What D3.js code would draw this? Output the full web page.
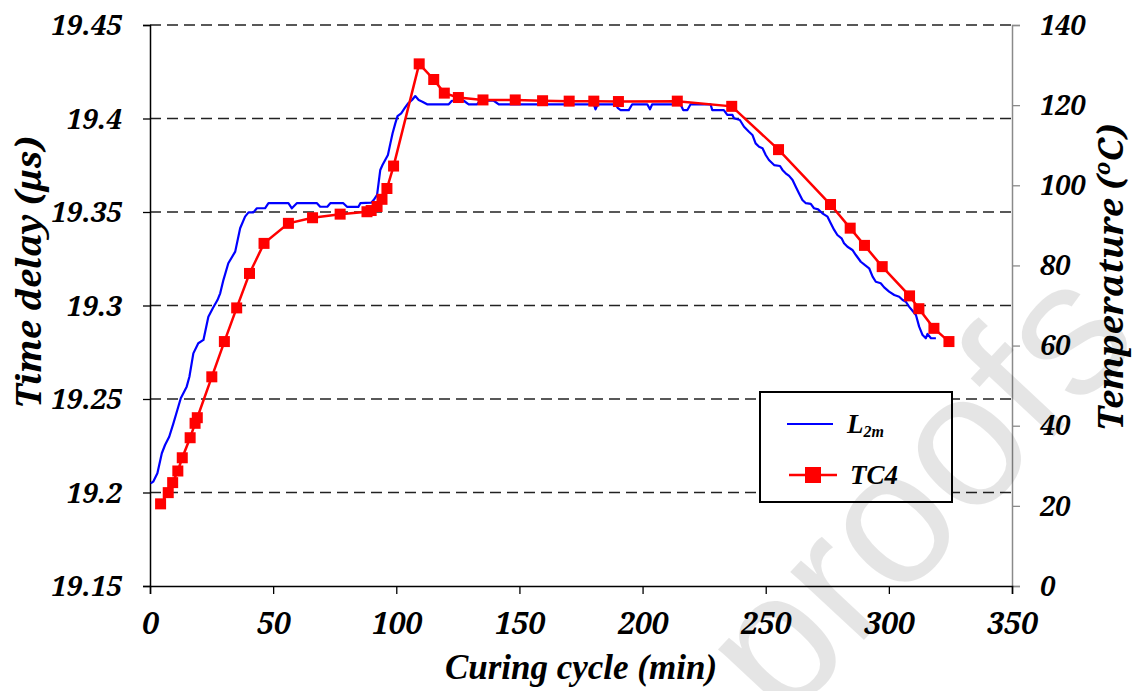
<!DOCTYPE html>
<html>
<head>
<meta charset="utf-8">
<script src="https://cdn.jsdelivr.net/npm/d3@7"></script>
<style>
  html, body { margin: 0; padding: 0; background: #fff; }
  svg { display: block; }
</style>
</head>
<body>
<svg id="chart" width="1134" height="691"></svg>
<script>
// ---------- data ----------
const xTicks = [0, 50, 100, 150, 200, 250, 300, 350];
const leftTicks = [19.15, 19.2, 19.25, 19.3, 19.35, 19.4, 19.45];
const leftTickLabels = ["19.15", "19.2", "19.25", "19.3", "19.35", "19.4", "19.45"];
const rightTicks = [0, 20, 40, 60, 80, 100, 120, 140];

// L2m: time delay (µs) vs curing time (min)
const l2mTime = [0.3, 1.3, 3.0, 4.8, 6.1, 7.8, 9.5, 11.1, 12.5, 14.9, 16.0, 17.6, 19.6, 21.7, 23.7, 25.5, 27.4, 28.5, 29.8, 31.8,
  34.6, 36.6, 38.6, 40.0, 42.0, 43.4, 46.7, 48.1, 56.2, 57.6, 59.6, 67.8, 69.1, 72.0, 73.2, 78.5, 80.1, 84.6, 85.4, 89.8,
  90.8, 92.2, 92.8, 93.5, 94.4, 95.5, 96.6, 97.6, 98.5, 99.6, 100.5, 102.0, 103.4, 104.8, 106.4, 107.7, 109.1, 110.6, 112.5, 121.3,
  122.6, 127.4, 129.4, 132.8, 134.1, 139.6, 141.6, 180.2, 180.9, 181.8, 189.0, 190.0, 191.1, 194.4, 195.8, 201.9, 203.0, 203.9, 215.4, 216.5,
  218.2, 219.5, 227.6, 228.3, 233.0, 234.4, 236.5, 237.1, 239.5, 241.2, 243.2, 244.6, 245.9, 247.3, 248.7, 250.0, 251.3, 253.4, 255.8, 256.8,
  258.1, 259.5, 260.9, 262.2, 263.5, 264.9, 266.3, 268.3, 269.6, 271.3, 273.0, 275.1, 276.4, 277.8, 279.1, 280.8, 281.8, 283.2, 285.2, 286.6,
  288.6, 290.2, 292.0, 293.4, 294.7, 296.7, 298.1, 300.1, 302.2, 304.2, 305.6, 306.9, 308.2, 309.6, 311.0, 312.3, 313.7, 315.0, 315.7, 317.1, 319.1];
const l2mDelay = [19.2049, 19.2058, 19.2103, 19.2210, 19.2254, 19.2298, 19.2370, 19.2441, 19.2504, 19.2566, 19.2619, 19.2744, 19.2798, 19.2816, 19.2940, 19.2985, 19.3029, 19.3065, 19.3136, 19.3226,
  19.3288, 19.3413, 19.3475, 19.3498, 19.3498, 19.3520, 19.3520, 19.3547, 19.3547, 19.3520, 19.3547, 19.3547, 19.3528, 19.3528, 19.3547, 19.3547, 19.3527, 19.3527, 19.3547, 19.3550,
  19.3564, 19.3591, 19.3653, 19.3725, 19.3751, 19.3778, 19.3805, 19.3867, 19.3921, 19.3974, 19.4013, 19.4028, 19.4055, 19.4081, 19.4099, 19.4120, 19.4099, 19.4090, 19.4076, 19.4076,
  19.4095, 19.4095, 19.4076, 19.4076, 19.4095, 19.4095, 19.4076, 19.4076, 19.4049, 19.4076, 19.4076, 19.4055, 19.4045, 19.4045, 19.4076, 19.4076, 19.4049, 19.4076, 19.4076, 19.4045,
  19.4045, 19.4076, 19.4076, 19.4045, 19.4045, 19.4019, 19.4019, 19.4001, 19.3992, 19.3956, 19.3929, 19.3912, 19.3867, 19.3849, 19.3841, 19.3805, 19.3778, 19.3751, 19.3746, 19.3725,
  19.3707, 19.3693, 19.3671, 19.3635, 19.3600, 19.3564, 19.3547, 19.3543, 19.3520, 19.3514, 19.3493, 19.3475, 19.3440, 19.3404, 19.3377, 19.3359, 19.3333, 19.3314, 19.3297, 19.3270,
  19.3234, 19.3217, 19.3199, 19.3154, 19.3127, 19.3119, 19.3097, 19.3074, 19.3056, 19.3047, 19.3029, 19.3020, 19.2994, 19.2972, 19.2949, 19.2887, 19.2842, 19.2825, 19.2848, 19.2825, 19.2825];

// TC4: temperature (°C) vs curing time (min)
const tc4Time = [4.3, 7.4, 9.2, 11.3, 13.1, 16.3, 18.3, 19.2, 25.1, 30.2, 35.2, 40.4, 46.3, 56.2, 66.0, 77.2, 88.1, 89.8, 92.2, 94.2,
  96.2, 98.9, 109.3, 115.2, 119.5, 125.2, 135.2, 148.3, 159.4, 170.2, 180.2, 190.2, 214.1, 236.2, 255.2, 276.3, 284.3, 290.1, 297.3, 308.4,
  312.2, 318.3, 324.4];
const tc4Temp = [20.5, 23.3, 25.8, 28.7, 32.0, 37.0, 40.6, 42.0, 52.2, 61.0, 69.4, 78.0, 85.5, 90.5, 91.9, 92.8, 93.4, 93.7, 94.7, 96.5,
  99.2, 104.8, 130.3, 126.4, 123.0, 121.9, 121.3, 121.3, 121.1, 121.0, 121.0, 120.9, 121.0, 119.7, 108.9, 95.2, 89.3, 85.0, 79.7, 72.4,
  69.2, 64.3, 61.0];

const seriesNames = ["L", "TC4"];

// ---------- layout ----------
const svg = d3.select("#chart");
const m = { left: 150, right: 1012, top: 25, bottom: 586 };

const x = d3.scaleLinear().domain([0, 350]).range([m.left, m.right]);
const yL = d3.scaleLinear().domain([19.15, 19.45]).range([m.bottom, m.top]);
const yR = d3.scaleLinear().domain([0, 140]).range([m.bottom, m.top]);

const TICK_FONT = "Noto Serif";
const TIMES = "Liberation Serif";

function tickStyle(sel, size) {
  sel.attr("font-family", TICK_FONT)
    .attr("font-size", size)
    .attr("font-weight", "bold").attr("font-style", "italic").attr("fill", "#000");
}

// gridlines (dashed)
svg.append("g").selectAll("line")
  .data(leftTicks.filter(d => d > 19.16))
  .join("line")
  .attr("x1", m.left).attr("x2", m.right)
  .attr("y1", d => yL(d)).attr("y2", d => yL(d))
  .attr("stroke", "#222").attr("stroke-width", 1.3)
  .attr("stroke-dasharray", "11,6");

// left axis
const gL = svg.append("g").attr("transform", `translate(${m.left},0)`)
  .call(d3.axisLeft(yL).tickValues(leftTicks).tickSize(7).tickFormat((d, i) => leftTickLabels[i]));
gL.attr("font-family", TICK_FONT).attr("font-size", 28);
gL.select(".domain").attr("stroke", "#000").attr("stroke-width", 1.5);
gL.selectAll(".tick line").attr("stroke", "#000").attr("stroke-width", 1.3);
gL.selectAll(".tick text").attr("x", -28).attr("dy", "0.34em").call(tickStyle, 28);

// right axis
const gR = svg.append("g").attr("transform", `translate(${m.right},0)`)
  .call(d3.axisRight(yR).tickValues(rightTicks).tickSize(8).tickFormat(d3.format("d")));
gR.attr("font-family", TICK_FONT).attr("font-size", 27);
gR.select(".domain").attr("stroke", "#8a8a8a").attr("stroke-width", 1.5);
gR.selectAll(".tick line").attr("stroke", "#8a8a8a").attr("stroke-width", 1.3);
gR.selectAll(".tick text").attr("x", 28).attr("dy", "0.34em").call(tickStyle, 27);

// bottom axis
const gB = svg.append("g").attr("transform", `translate(0,${m.bottom})`)
  .call(d3.axisBottom(x).tickValues(xTicks).tickSize(8).tickFormat(d3.format("d")));
gB.attr("font-family", TICK_FONT).attr("font-size", 30);
gB.select(".domain").attr("stroke", "#000").attr("stroke-width", 1.5);
gB.selectAll(".tick text").attr("y", 27).attr("dy", "0.71em").call(tickStyle, 30);
gB.selectAll(".tick line").attr("stroke", "#000").attr("stroke-width", 1.3);

// axis titles
svg.append("text")
  .attr("transform", `translate(41,${(130 + 415) / 2}) rotate(-90)`)
  .attr("text-anchor", "middle")
  .attr("font-family", TICK_FONT)
  .attr("font-size", 35).attr("font-style", "italic").attr("font-weight", "bold")
  .text("Time delay (μs)");

const tR = svg.append("text")
  .attr("transform", `translate(1123,${(125 + 430) / 2}) rotate(-90)`)
  .attr("text-anchor", "middle")
  .attr("font-family", TICK_FONT)
  .attr("font-size", 35).attr("font-style", "italic").attr("font-weight", "bold");
tR.append("tspan").text("Temperature (");
tR.append("tspan").attr("dy", -13).attr("font-size", 22).text("o");
tR.append("tspan").attr("dy", 13).text("C)");

svg.append("text")
  .attr("x", 581).attr("y", 679)
  .attr("text-anchor", "middle")
  .attr("font-family", TIMES)
  .attr("font-size", 35).attr("font-style", "italic").attr("font-weight", "bold")
  .text("Curing cycle (min)");

// ---------- series ----------
const l2mData = l2mTime.map((t, i) => [t, l2mDelay[i]]);
const tc4Data = tc4Time.map((t, i) => [t, tc4Temp[i]]);

svg.append("path")
  .datum(l2mData)
  .attr("fill", "none").attr("stroke", "#0000ff").attr("stroke-width", 2.2)
  .attr("stroke-linejoin", "round")
  .attr("d", d3.line().x(d => x(d[0])).y(d => yL(d[1])));

svg.append("path")
  .datum(tc4Data)
  .attr("fill", "none").attr("stroke", "#ff0000").attr("stroke-width", 2.5)
  .attr("d", d3.line().x(d => x(d[0])).y(d => yR(d[1])));

const ms = 11;
svg.append("g").selectAll("rect")
  .data(tc4Data)
  .join("rect")
  .attr("x", d => x(d[0]) - ms / 2).attr("y", d => yR(d[1]) - ms / 2)
  .attr("width", ms).attr("height", ms)
  .attr("fill", "#ff0000");

// ---------- legend ----------
const lg = svg.append("g");
lg.append("rect")
  .attr("x", 760).attr("y", 392).attr("width", 192).attr("height", 110)
  .attr("fill", "#fff").attr("stroke", "#000").attr("stroke-width", 2);
lg.append("line").attr("x1", 787).attr("x2", 833).attr("y1", 424).attr("y2", 424)
  .attr("stroke", "#0000ff").attr("stroke-width", 2.2);
const lt = lg.append("text").attr("x", 847).attr("y", 433)
  .attr("font-family", TIMES)
  .attr("font-size", 27).attr("font-style", "italic").attr("font-weight", "bold");
lt.append("tspan").text(seriesNames[0]);
lt.append("tspan").attr("dy", 4).attr("font-size", 16).text("2m");
lg.append("line").attr("x1", 789).attr("x2", 837).attr("y1", 475).attr("y2", 475)
  .attr("stroke", "#ff0000").attr("stroke-width", 2.5);
lg.append("rect").attr("x", 805).attr("y", 467).attr("width", 16).attr("height", 16)
  .attr("fill", "#ff0000");
lg.append("text").attr("x", 850).attr("y", 484)
  .attr("font-family", TIMES)
  .attr("font-size", 27).attr("font-style", "italic").attr("font-weight", "bold")
  .text(seriesNames[1]);

// ---------- watermark ----------
svg.append("text")
  .attr("transform", "translate(783,727) rotate(-47)")
  .attr("font-family", "Liberation Sans")
  .attr("font-size", 190)
  .attr("fill", "#000").attr("fill-opacity", 0.1)
  .style("pointer-events", "none")
  .text("proofs");
</script>
</body>
</html>
